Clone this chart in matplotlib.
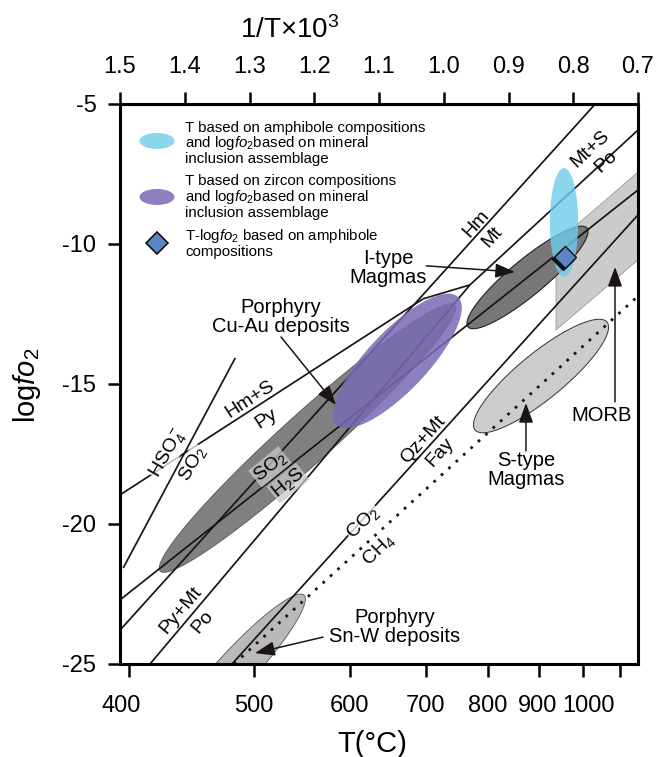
import numpy as np
import matplotlib
matplotlib.use("Agg")
import matplotlib.pyplot as plt
import matplotlib.patches as mpatches
from matplotlib.transforms import ScaledTranslation

plt.rcParams["font.family"] = ["Liberation Sans", "DejaVu Sans"]
plt.rcParams["mathtext.fontset"] = "custom"
plt.rcParams["mathtext.rm"] = "Liberation Sans"
plt.rcParams["mathtext.it"] = "Liberation Sans:italic"

# ticks
INV_T_TICKS = [1.5, 1.4, 1.3, 1.2, 1.1, 1.0, 0.9, 0.8, 0.7]
T_TICKS = [400, 500, 600, 700, 800, 900, 1000, 1100]
T_LABELS = ["400", "500", "600", "700", "800", "900", "1000", ""]
LOGFO2_TICKS = [-5, -10, -15, -20, -25]

# buffer lines: ([1/T ...], [logfO2 ...])
HSO4_SO2 = ([1.495, 1.322], [-21.57, -14.07])
HMS_PY = ([1.5, 1.032], [-18.96, -11.96])
HM_MT = ([1.5, 0.766], [-23.79, -5.0])
PY_MT = ([1.032, 0.9595], [-11.96, -11.46])
MTS_PO = ([0.9595, 0.7], [-11.46, -5.93])
PYMT_PO = ([1.4537, 0.9595], [-25.0, -11.46])
SO2_H2S = ([1.5, 0.7], [-22.71, -8.07])
QZ_MT_FAY = ([1.327, 0.7], [-25.0, -8.96])
CO2_CH4 = ([1.324, 0.7], [-25.0, -11.86])

# fields: two tips (1/T, logfO2) and minor/major ratio
CU_AU = [(1.438, -21.68), (0.983, -12.18)]
CU_AU_RATIO = 0.125
ZIRCON = [(1.165, -16.46), (0.978, -11.89)]
ZIRCON_RATIO = 0.34
I_TYPE = [(0.9625, -12.96), (0.7788, -9.43)]
I_TYPE_RATIO = 0.23
AMPH = [(0.8143, -7.29), (0.8143, -11.18)]
AMPH_RATIO = 0.26
S_TYPE = [(0.9517, -16.64), (0.7479, -12.79)]
S_TYPE_RATIO = 0.27
SN_W = [(1.2158, -22.54), (1.4259, -27.82)]
SN_W_RATIO = 0.185
MORB_X = [0.8266, 0.7, 0.7, 0.8266]
MORB_Y = [-9.96, -7.43, -10.57, -13.07]

# T-logfO2 from amphibole
AMPH_PT = (0.812, -10.46)


def t_to_inv(t):
    return 1000.0 / (np.asarray(t, float) + 273.15)


def add_ellipse(ax, tips, ratio, **kw):
    """Ellipse between two tips, round in screen space."""
    p = ax.transData.transform(tips)
    c = p.mean(axis=0)
    d = p[1] - p[0]
    a = np.hypot(*d) / 2
    u = d / (2 * a)
    v = np.array([-u[1], u[0]])
    t = np.linspace(0, 2 * np.pi, 240)
    pts = c + np.outer(a * np.cos(t), u) + np.outer(a * ratio * np.sin(t), v)
    verts = ax.transData.inverted().transform(pts)
    return ax.add_patch(mpatches.Polygon(verts, closed=True, **kw))


fig = plt.figure(figsize=(6.59, 7.57), dpi=100)
ax = fig.add_axes([120 / 659, 93 / 757, 518 / 659, 560 / 757])
ax.set_xlim(1.5, 0.7)
ax.set_ylim(-25, -5)

for s in ax.spines.values():
    s.set_linewidth(2.2)

# bottom: T in degC
ax.set_xticks(t_to_inv(T_TICKS))
ax.set_xticklabels(T_LABELS)
ax.set_yticks(LOGFO2_TICKS)
ax.set_yticklabels([str(v) for v in LOGFO2_TICKS])
ax.tick_params(axis="x", direction="out", length=9, width=1.8, labelsize=17, pad=13)
ax.tick_params(axis="y", direction="out", length=9, width=1.8, labelsize=17, pad=8)

top = ax.secondary_xaxis("top")
top.set_xticks(INV_T_TICKS)
top.set_xticklabels([f"{v:.1f}" for v in INV_T_TICKS])
top.tick_params(direction="out", length=9, width=1.8, labelsize=17, pad=10)
top.spines["top"].set_linewidth(2.2)

# nudge crowded bottom labels
nudge = {"400": -8, "900": -2, "1000": 6}
for tick, lab in zip(ax.xaxis.get_major_ticks(), T_LABELS):
    if lab in nudge:
        tick.label1.set_transform(tick.label1.get_transform()
                                  + ScaledTranslation(nudge[lab] / 100, 0, fig.dpi_scale_trans))

fig.text(290 / 659, 1 - 30 / 757, "1/T×10$^3$", fontsize=20, ha="center", va="center")
fig.text(372 / 659, 1 - 744 / 757, "T(°C)", fontsize=21, ha="center", va="center")
fig.text(27 / 659, 1 - 385 / 757, r"log$\mathit{fo}_2$", fontsize=21,
         ha="center", va="center", rotation=90)

# fields
ax.fill(MORB_X, MORB_Y, facecolor="#cbcbcb", edgecolor="#9a9a9a", lw=0.6, zorder=1)
add_ellipse(ax, S_TYPE, S_TYPE_RATIO, facecolor="#cccccc", edgecolor="#333333", lw=0.7, zorder=1.1)
add_ellipse(ax, SN_W, SN_W_RATIO, facecolor="#b9b9b9", edgecolor="#555555", lw=0.6, zorder=1.1)
add_ellipse(ax, CU_AU, CU_AU_RATIO, facecolor="#808080", edgecolor="#555555", lw=0.6, zorder=1.2)
add_ellipse(ax, I_TYPE, I_TYPE_RATIO, facecolor="#777777", edgecolor="#222222", lw=0.8, zorder=1.2)

# buffers
for xs, ys in [HSO4_SO2, HMS_PY, HM_MT, PY_MT, MTS_PO, PYMT_PO, SO2_H2S, QZ_MT_FAY]:
    ax.plot(xs, ys, color="#1a1414", lw=1.25, zorder=2, solid_capstyle="butt")
ax.plot(*CO2_CH4, color="#1a1414", lw=2.0, ls=(0, (1.0, 2.6)), zorder=2)

add_ellipse(ax, AMPH, AMPH_RATIO, facecolor="#6dccec", edgecolor="none", alpha=0.8, zorder=3)
add_ellipse(ax, ZIRCON, ZIRCON_RATIO, facecolor="#7a6ab5", edgecolor="none", alpha=0.85, zorder=3)

shadow = ax.transData + ScaledTranslation(-1.5 / 72, -1.5 / 72, fig.dpi_scale_trans)
ax.plot(*AMPH_PT, marker="D", ms=11, mfc="#111111", mec="#111111", transform=shadow, zorder=5)
ax.plot(*AMPH_PT, marker="D", ms=11, mfc="#5b86c5", mec="#111111", mew=1.0, zorder=5.1)

# line labels: (text, x, y, rotation, box)
LINE_LABELS = [
    ("Hm", 0.9502, -9.29, 48, None), ("Mt", 0.9247, -9.75, 48, None),
    ("Mt+S", 0.7741, -6.61, 43, None), ("Po", 0.7494, -7.07, 43, None),
    ("Hm+S", 1.2992, -15.54, 33, None), ("Py", 1.2745, -16.25, 33, None),
    ("HSO$_4^-$", 1.4259, -17.46, 60, "white"), ("SO$_2$", 1.3873, -17.86, 60, "white"),
    ("SO$_2$", 1.2683, -17.96, 39, "#c8c8c8"), ("H$_2$S", 1.2405, -18.54, 39, "#c8c8c8"),
    ("Py+Mt", 1.4058, -23.07, 50, None), ("Po", 1.3718, -23.5, 50, None),
    ("Qz+Mt", 1.032, -17.0, 48, None), ("Fay", 1.0058, -17.43, 48, None),
    ("CO$_2$", 1.1247, -19.93, 44, "white"), ("CH$_4$", 1.1015, -20.93, 44, "white"),
]
for txt, x, y, rot, box in LINE_LABELS:
    bb = None if box is None else dict(facecolor=box, edgecolor="none", alpha=0.75, pad=0.5)
    ax.text(x, y, txt, fontsize=14, rotation=rot, rotation_mode="anchor",
            ha="center", va="center", bbox=bb, zorder=4)

# named fields with arrows
arrow = dict(arrowstyle="-|>,head_length=0.6,head_width=0.22", color="#1a1414",
             lw=1.1, mutation_scale=20, shrinkA=0, shrinkB=0)
FIELD_LABELS = [
    ("Porphyry\nCu-Au deposits", (1.2513, -12.62), (1.2513, -13.32), (1.1664, -15.75)),
    ("I-type\nMagmas", (1.0860, -10.86), (1.027, -10.78), (0.890, -11.0)),
    ("Porphyry\nSn-W deposits", (1.0753, -23.68), (1.1865, -24.04), (1.2915, -24.61)),
    ("S-type\nMagmas", (0.873, -18.07), (0.873, -17.39), (0.873, -15.68)),
    ("MORB", (0.7556, -16.14), (0.7355, -15.64), (0.7355, -10.82)),
]
for txt, pos, start, tip in FIELD_LABELS:
    ax.text(*pos, txt, fontsize=14.5, ha="center", va="center", linespacing=1.0, zorder=4)
    ax.annotate("", xy=tip, xytext=start, arrowprops=arrow, zorder=4)

# legend
ax.add_patch(mpatches.Ellipse((0.0714, 0.934), 0.0676, 0.0286, transform=ax.transAxes,
                              facecolor="#6dccec", alpha=0.8, edgecolor="none"))
ax.add_patch(mpatches.Ellipse((0.0714, 0.834), 0.0676, 0.0286, transform=ax.transAxes,
                              facecolor="#7a6ab5", alpha=0.85, edgecolor="none"))
ax.plot([0.0714], [0.752], marker="D", ms=11, mfc="#5b86c5", mec="#111111", mew=1.2,
        transform=ax.transAxes)
LEGEND_TEXT = [
    (0.930, "T based on amphibole compositions\nand log$\\mathit{fo}_2$based on mineral\ninclusion assemblage"),
    (0.834, "T based on zircon compositions\nand log$\\mathit{fo}_2$based on mineral\ninclusion assemblage"),
    (0.752, "T-log$\\mathit{fo}_2$ based on amphibole\ncompositions"),
]
for y, txt in LEGEND_TEXT:
    ax.text(0.1255, y, txt, transform=ax.transAxes, fontsize=10.8, ha="left", va="center",
            linespacing=0.97)

fig.savefig("out.png", dpi=100)
